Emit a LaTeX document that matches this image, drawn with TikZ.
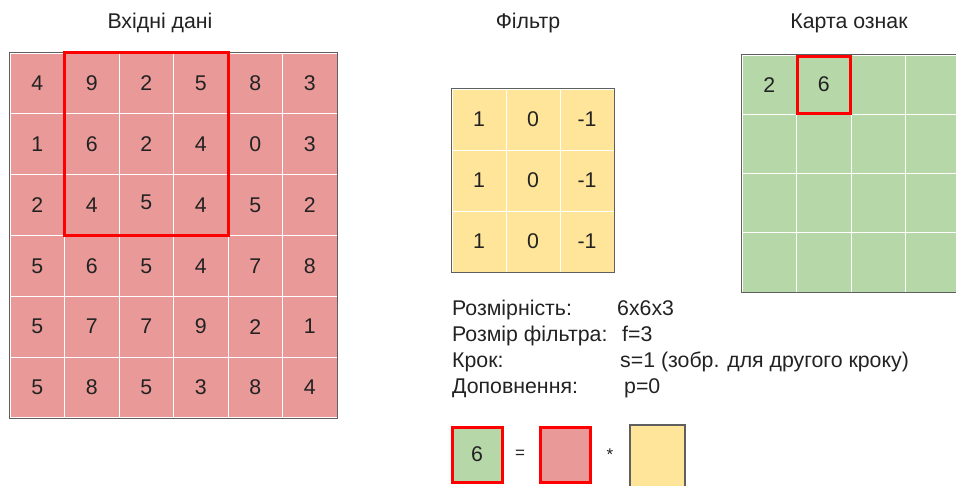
\documentclass[tikz,border=0pt]{standalone}
\usepackage{fontspec}
\setmainfont{Liberation Sans}
\definecolor{cred}{HTML}{EA9999}
\definecolor{cgreen}{HTML}{B6D7A8}
\definecolor{cyellow}{HTML}{FFE599}
\definecolor{cborder}{HTML}{5F5F5F}
\definecolor{ctext}{HTML}{222222}
\begin{document}
\begin{tikzpicture}[x=1pt,y=-1pt,
  every node/.style={text=ctext,font=\fontsize{21.3}{25}\selectfont},
  cellbase/.style={rectangle,inner sep=0pt,draw=white,line width=1pt},
  incell/.style={cellbase,fill=cred,minimum width=54.5pt,minimum height=60.8pt},
  ficell/.style={cellbase,fill=cyellow,minimum width=54pt,minimum height=61pt},
  fmcell/.style={cellbase,fill=cgreen,minimum width=54.5pt,minimum height=59.25pt},
  outer/.style={draw=cborder,line width=1.3pt},
  redframe/.style={draw=red,line width=3pt},
  title/.style={anchor=base},
  txt/.style={anchor=base west,inner sep=0pt},
  smallbox/.style={rectangle,inner sep=0pt,minimum width=50pt,minimum height=55pt}]
\useasboundingbox (0,0) rectangle (956,485);
\clip (0,0) rectangle (956,485);
% titles
\node[title] (t-in) at (160,28) {Вхідні дані};
\node[title] (t-fi) at (528,28) {Фільтр};
\node[title] (t-fm) at (849,28) {Карта ознак};
% input grid
\foreach \r/\row in {1/{4,9,2,5,8,3},2/{1,6,2,4,0,3},3/{2,4,{\raisebox{5pt}{5}},4,5,2},4/{5,6,5,4,7,8},5/{5,7,7,9,2,1},6/{5,8,5,3,8,4}}{
  \foreach \v [count=\c] in \row {
    \node[incell] (in-\r-\c) at ({10+(\c-0.5)*54.5},{53+(\r-0.5)*60.8}) {\v};
  }
}
\draw[outer] (in-1-1.north west) rectangle (in-6-6.south east);
\draw[redframe] (in-1-2.north west) rectangle (in-3-4.south east);
% filter
\foreach \r in {1,2,3}{
  \foreach \v [count=\c] in {1,0,-1} {
    \node[ficell] (fi-\r-\c) at ({452+(\c-0.5)*54},{89+(\r-0.5)*61}) {\v};
  }
}
\draw[outer] (fi-1-1.north west) rectangle (fi-3-3.south east);
% feature map
\foreach \r in {1,2,3,4}{
  \foreach \c in {1,2,3,4} {
    \node[fmcell] (fm-\r-\c) at ({742+(\c-0.5)*54.5},{55+(\r-0.5)*59.25}) {};
  }
}
\node at (fm-1-1) {2};
\node at (fm-1-2) {6};
\draw[outer] (fm-1-1.north west) rectangle (fm-4-4.south east);
\draw[redframe] ([shift={(1.5,1.5)}]fm-1-2.north west) rectangle ([shift={(-1.5,-1.5)}]fm-1-2.south east);
% parameters
\node[txt] (l1) at (452,315) {Розмірність:};
\node[txt] (v1) at (617,315) {6x6x3};
\node[txt] (l2) at (452,341) {Розмір фільтра:};
\node[txt] (v2) at (622,341) {f=3};
\node[txt] (l3) at (452,367) {Крок:};
\node[txt] (v3) at (620,367) {s=1 (зобр. для другого кроку)};
\node[txt] (l4) at (452,393) {Доповнення:};
\node[txt] (v4) at (624,393) {p=0};
% equation
\node[smallbox,fill=cgreen,draw=red,line width=3pt] (eq-g) at (477,454.5) {6};
\node[font=\fontsize{17}{20}\selectfont] (eq-eq) at (520,454) {=};
\node[smallbox,fill=cred,draw=red,line width=3pt] (eq-r) at (565,454.5) {};
\node[font=\fontsize{17}{20}\selectfont] (eq-st) at (610,455) {*};
\node[rectangle,inner sep=0pt,minimum width=55pt,minimum height=70pt,fill=cyellow,draw=cborder,line width=1.3pt] (eq-y) at (657.5,460) {};
\end{tikzpicture}
\end{document}
